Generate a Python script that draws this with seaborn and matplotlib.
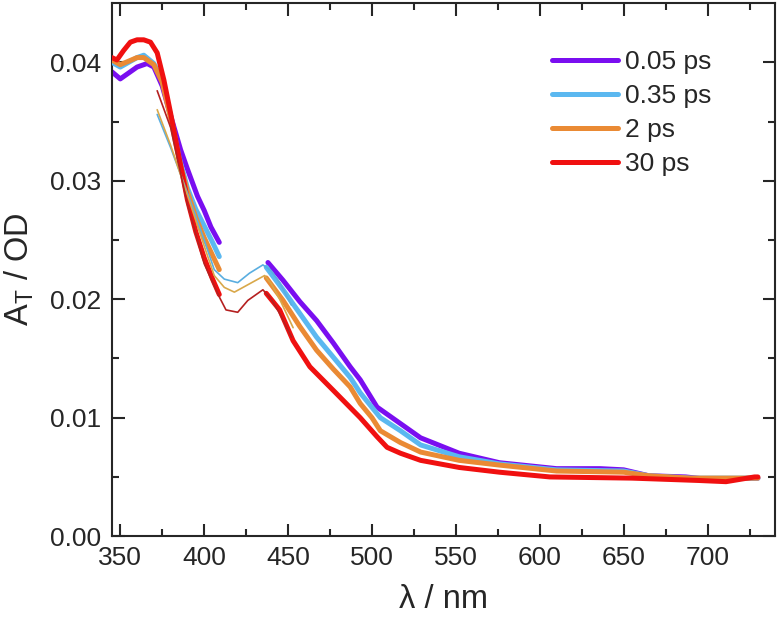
import matplotlib
matplotlib.use("Agg")
import pandas as pd
import seaborn as sns
import matplotlib.pyplot as plt

# delays and colours
labels = ["0.05 ps", "0.35 ps", "2 ps", "30 ps"]
colors = ["#7a0ef0", "#5bb8f0", "#ea8a34", "#f01010"]
thin_colors = ["#7a0ef0", "#5aaee0", "#d9a84a", "#b52020"]

# short-wavelength detector, thick trace (345-410 nm)
wl_a_purple = [345, 350, 355, 360, 366, 370, 375, 380, 386, 390, 396, 400, 404, 409]
a_a_purple = [0.0392, 0.0386, 0.0391, 0.0396, 0.0399, 0.0396, 0.0380, 0.0355, 0.0326, 0.0310, 0.0287, 0.0275, 0.0261, 0.0248]
wl_a_blue = [345, 350, 355, 360, 364, 370, 375, 380, 385, 390, 395, 400, 405, 409]
a_a_blue = [0.0400, 0.0396, 0.0400, 0.0404, 0.0406, 0.0399, 0.0385, 0.0355, 0.0320, 0.0294, 0.0276, 0.0262, 0.0248, 0.0236]
wl_a_orange = [345, 350, 355, 360, 364, 370, 375, 380, 385, 390, 395, 400, 405, 409]
a_a_orange = [0.0402, 0.0398, 0.0401, 0.0404, 0.0404, 0.0398, 0.0383, 0.0353, 0.0318, 0.0291, 0.0269, 0.0252, 0.0237, 0.0225]
wl_a_red = [345, 348, 352, 356, 360, 364, 368, 372, 376, 380, 385, 390, 395, 400, 405, 409]
a_a_red = [0.0404, 0.0402, 0.0410, 0.0417, 0.0419, 0.0419, 0.0417, 0.0408, 0.0385, 0.0357, 0.0320, 0.0284, 0.0257, 0.0235, 0.0217, 0.0204]

# overlap trace, thin (372-453 nm)
wl_b_blue = [372, 380, 390, 400, 406, 412, 420, 427, 435, 440, 445, 452]
a_b_blue = [0.0356, 0.0328, 0.0290, 0.0250, 0.0225, 0.0217, 0.0214, 0.0222, 0.0229, 0.0224, 0.0214, 0.0195]
wl_b_orange = [372, 380, 390, 400, 406, 412, 418, 427, 436, 440, 445, 453]
a_b_orange = [0.0360, 0.0330, 0.0288, 0.0245, 0.0220, 0.0210, 0.0206, 0.0213, 0.0220, 0.0213, 0.0200, 0.0176]
wl_b_red = [372, 380, 390, 400, 409, 413, 420, 426, 435, 440, 445, 452]
a_b_red = [0.0376, 0.0345, 0.0280, 0.0230, 0.0202, 0.0191, 0.0189, 0.0199, 0.0208, 0.0200, 0.0188, 0.0168]

# long-wavelength detector, thick trace (437-730 nm)
wl_c_purple = [438, 447, 457, 467, 477, 487, 493, 503, 512, 517, 529, 552, 576, 610, 636, 650, 665, 687, 700, 730]
a_c_purple = [0.0231, 0.0216, 0.0198, 0.0182, 0.0163, 0.0143, 0.0132, 0.0109, 0.0100, 0.0095, 0.0083, 0.0070, 0.0062, 0.0057, 0.0057, 0.0056, 0.0051, 0.0050, 0.0048, 0.0049]
wl_c_blue = [437, 447, 457, 467, 477, 487, 493, 505, 517, 529, 552, 576, 610, 650, 665, 690, 730]
a_c_blue = [0.0227, 0.0208, 0.0188, 0.0168, 0.0151, 0.0134, 0.0121, 0.0100, 0.0089, 0.0077, 0.0067, 0.0061, 0.0056, 0.0055, 0.0051, 0.0049, 0.0049]
wl_c_orange = [437, 447, 457, 467, 477, 487, 493, 500, 505, 517, 529, 552, 576, 610, 650, 665, 690, 730]
a_c_orange = [0.0218, 0.0199, 0.0177, 0.0157, 0.0141, 0.0126, 0.0112, 0.0100, 0.0089, 0.0079, 0.0071, 0.0064, 0.0060, 0.0055, 0.0054, 0.0051, 0.0049, 0.0049]
wl_c_red = [437, 445, 453, 463, 477, 493, 503, 509, 517, 529, 552, 576, 606, 655, 695, 711, 728, 730]
a_c_red = [0.0205, 0.0191, 0.0165, 0.0143, 0.0123, 0.0100, 0.0084, 0.0075, 0.0070, 0.0064, 0.0058, 0.0054, 0.0050, 0.0049, 0.0047, 0.0046, 0.0050, 0.0050]

thick_a = [(wl_a_purple, a_a_purple), (wl_a_blue, a_a_blue), (wl_a_orange, a_a_orange), (wl_a_red, a_a_red)]
thick_c = [(wl_c_purple, a_c_purple), (wl_c_blue, a_c_blue), (wl_c_orange, a_c_orange), (wl_c_red, a_c_red)]
thin_b = [None, (wl_b_blue, a_b_blue), (wl_b_orange, a_b_orange), (wl_b_red, a_b_red)]

sns.set_style("ticks")
plt.rcParams["font.family"] = ["Liberation Sans", "DejaVu Sans"]

fig = plt.figure(figsize=(7.77, 6.17), dpi=100)
ax = fig.add_axes([0.144, 0.131, 0.853, 0.864])

for i in range(4):
    wl, a = thick_a[i]
    sns.lineplot(x=wl, y=a, color=colors[i], lw=3.6, ax=ax, label=labels[i],
                 solid_capstyle="round", zorder=2 + i)
    wl, a = thick_c[i]
    sns.lineplot(x=wl, y=a, color=colors[i], lw=3.6, ax=ax,
                 solid_capstyle="round", zorder=2 + i)
for i in range(4):
    if thin_b[i] is None:
        continue
    wl, a = thin_b[i]
    sns.lineplot(x=wl, y=a, color=thin_colors[i], lw=1.2, ax=ax, zorder=10)

ax.set_xlim(345, 740)
ax.set_ylim(0, 0.045)
ax.set_xticks([350, 400, 450, 500, 550, 600, 650, 700])
ax.set_xticks([375, 425, 475, 525, 575, 625, 675, 725], minor=True)
ax.set_yticks([0.00, 0.01, 0.02, 0.03, 0.04])
ax.set_yticks([0.005, 0.015, 0.025, 0.035], minor=True)
ax.set_yticklabels(["0.00", "0.01", "0.02", "0.03", "0.04"])
ax.tick_params(which="both", direction="in", top=True, right=True, width=1.5, labelsize=19)
ax.tick_params(which="major", length=9)
ax.tick_params(which="minor", length=5)
ax.tick_params(axis="y", pad=8)
ax.tick_params(axis="x", pad=7)
for s in ax.spines.values():
    s.set_linewidth(1.5)

ax.set_xlabel("λ / nm", fontsize=23.5, labelpad=10)
ax.set_ylabel("A$_\\mathregular{T}$ / OD", fontsize=23.5, labelpad=10)

leg = ax.legend(loc="upper left", bbox_to_anchor=(0.664, 0.912), frameon=False, fontsize=19,
                handlelength=2.5, handletextpad=0.27, labelspacing=0.38, borderaxespad=0, borderpad=0)
for h in leg.get_lines():
    h.set_linewidth(3.6)

fig.savefig("out.png", dpi=100)
